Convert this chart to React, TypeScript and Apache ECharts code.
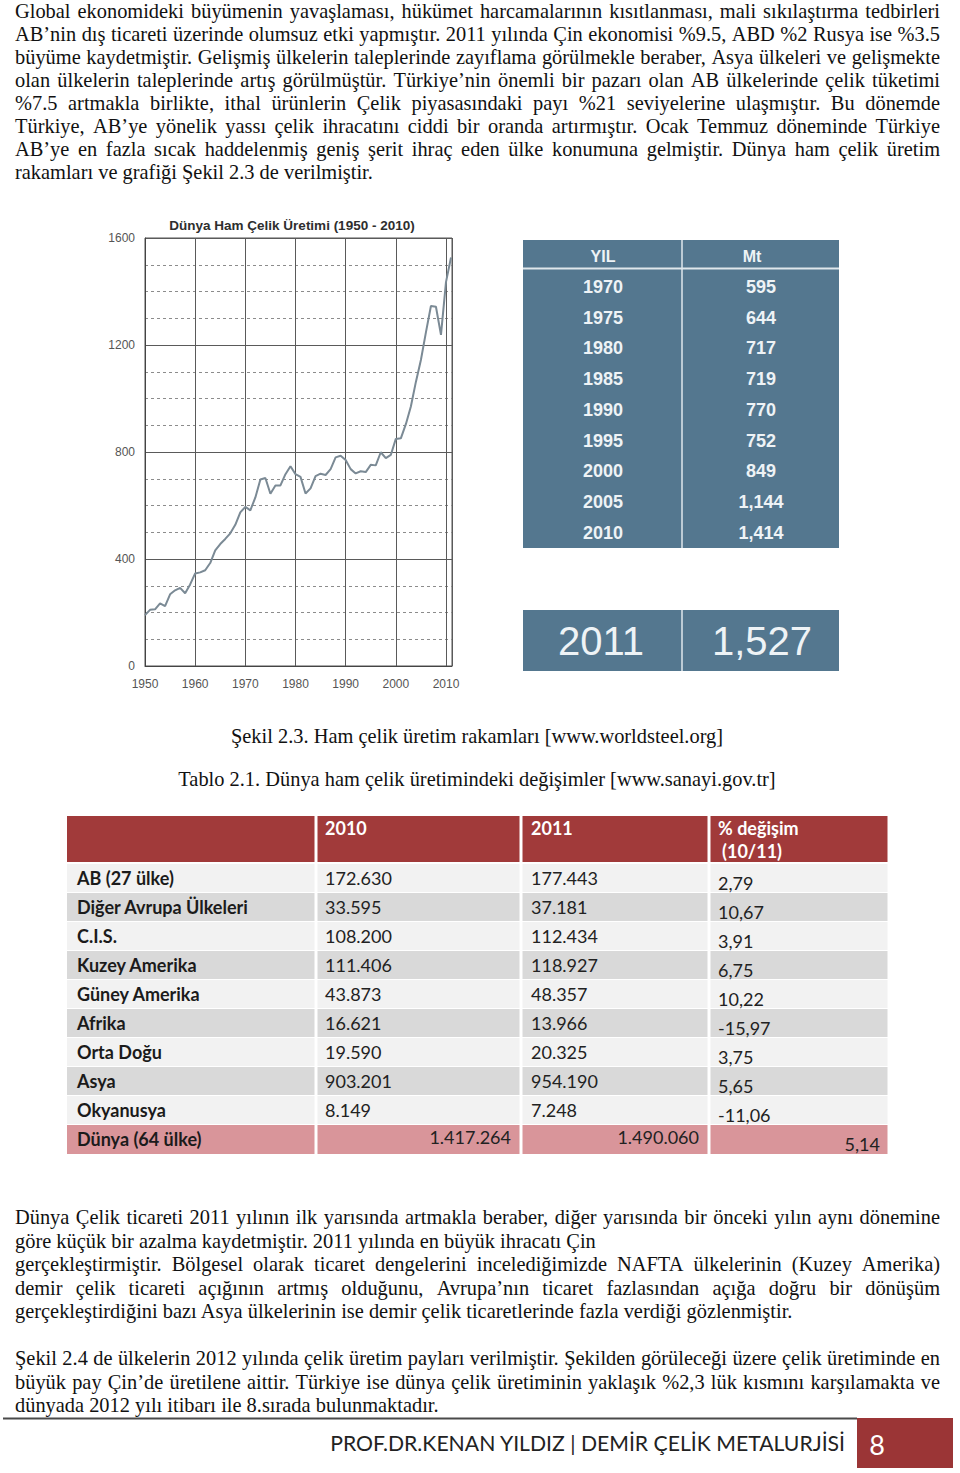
import React, { useEffect, useRef } from "react";
import * as echarts from "echarts";

// ---------- Line chart data (Mt) ----------
const years = [
  1950, 1951, 1952, 1953, 1954, 1955, 1956, 1957, 1958, 1959,
  1960, 1961, 1962, 1963, 1964, 1965, 1966, 1967, 1968, 1969,
  1970, 1971, 1972, 1973, 1974, 1975, 1976, 1977, 1978, 1979,
  1980, 1981, 1982, 1983, 1984, 1985, 1986, 1987, 1988, 1989,
  1990, 1991, 1992, 1993, 1994, 1995, 1996, 1997, 1998, 1999,
  2000, 2001, 2002, 2003, 2004, 2005, 2006, 2007, 2008, 2009,
  2010, 2011,
];
const production = [
  190, 210, 212, 234, 224, 268, 283, 292, 272, 305,
  346, 350, 358, 385, 432, 456, 475, 496, 528, 574,
  595, 582, 630, 697, 703, 644, 675, 675, 717, 747,
  717, 707, 645, 664, 710, 719, 714, 736, 780, 786,
  770, 736, 720, 728, 725, 752, 750, 799, 777, 789,
  849, 851, 904, 970, 1062, 1144, 1247, 1346, 1343, 1238,
  1435, 1527,
];
const chartTitle = "Dünya Ham Çelik Üretimi (1950 - 2010)";

// ---------- Blue panel ----------
const panelHeader = ["YIL", "Mt"];
const panelYears = ["1970", "1975", "1980", "1985", "1990", "1995", "2000", "2005", "2010"];
const panelMt = ["595", "644", "717", "719", "770", "752", "849", "1,144", "1,414"];
const panelLatest = ["2011", "1,527"];

// ---------- Table 2.1 ----------
const tableHeader = ["", "2010", "2011", "% değişim", "(10/11)"];
const regions = [
  "AB (27 ülke)", "Diğer Avrupa Ülkeleri", "C.I.S.", "Kuzey Amerika", "Güney Amerika",
  "Afrika", "Orta Doğu", "Asya", "Okyanusya",
];
const values2010 = ["172.630", "33.595", "108.200", "111.406", "43.873", "16.621", "19.590", "903.201", "8.149"];
const values2011 = ["177.443", "37.181", "112.434", "118.927", "48.357", "13.966", "20.325", "954.190", "7.248"];
const changes = ["2,79", "10,67", "3,91", "6,75", "10,22", "-15,97", "3,75", "5,65", "-11,06"];
const totalRow = ["Dünya (64 ülke)", "1.417.264", "1.490.060", "5,14"];

// ---------- Page text ----------
const para1 = [
  "Global ekonomideki büyümenin yavaşlaması, hükümet harcamalarının kısıtlanması, mali sıkılaştırma tedbirleri",
  "AB’nin dış ticareti üzerinde olumsuz etki yapmıştır. 2011 yılında Çin ekonomisi %9.5, ABD %2 Rusya ise %3.5",
  "büyüme kaydetmiştir. Gelişmiş ülkelerin taleplerinde zayıflama görülmekle beraber, Asya ülkeleri ve gelişmekte",
  "olan ülkelerin taleplerinde artış görülmüştür.  Türkiye’nin önemli bir pazarı olan AB ülkelerinde çelik tüketimi",
  "%7.5 artmakla birlikte, ithal ürünlerin Çelik piyasasındaki payı %21 seviyelerine ulaşmıştır. Bu dönemde",
  "Türkiye, AB’ye yönelik yassı çelik ihracatını ciddi bir oranda artırmıştır. Ocak Temmuz döneminde Türkiye",
  "AB’ye en fazla sıcak haddelenmiş geniş şerit ihraç eden ülke konumuna gelmiştir. Dünya ham çelik üretim",
  "rakamları ve grafiği Şekil 2.3 de verilmiştir.",
];
const para1Justify = [true, true, true, true, true, true, true, false];
const para2 = [
  "Dünya Çelik ticareti 2011 yılının ilk yarısında artmakla beraber, diğer yarısında bir önceki yılın aynı dönemine",
  "göre küçük bir azalma kaydetmiştir. 2011 yılında en büyük ihracatı Çin",
  "gerçekleştirmiştir. Bölgesel olarak ticaret dengelerini incelediğimizde NAFTA ülkelerinin (Kuzey Amerika)",
  "demir çelik ticareti açığının artmış olduğunu, Avrupa’nın ticaret fazlasından açığa doğru bir dönüşüm",
  "gerçekleştirdiğini bazı Asya ülkelerinin ise demir çelik ticaretlerinde fazla verdiği gözlenmiştir.",
];
const para2Justify = [true, false, true, true, false];
const para3 = [
  "Şekil 2.4 de ülkelerin 2012 yılında çelik üretim payları verilmiştir. Şekilden görüleceği üzere çelik üretiminde en",
  "büyük pay Çin’de üretilene aittir. Türkiye ise dünya çelik üretiminin yaklaşık %2,3 lük kısmını karşılamakta ve",
  "dünyada 2012 yılı itibarı ile 8.sırada bulunmaktadır.",
];
const para3Justify = [true, true, false];
const caption1 = "Şekil 2.3. Ham çelik üretim rakamları [www.worldsteel.org]";
const caption2 = "Tablo 2.1. Dünya ham çelik üretimindeki değişimler [www.sanayi.gov.tr]";
const footerText = "PROF.DR.KENAN YILDIZ | DEMİR ÇELİK METALURJİSİ";
const pageNumber = "8";

// ---------- helpers ----------
const SERIF = "Liberation Serif";
const SANS = "Liberation Sans";
const HUMAN = "Lato";

let measureCtx: CanvasRenderingContext2D | null = null;
function textWidth(text: string, size: number, family: string, weight = "normal") {
  if (!measureCtx) measureCtx = document.createElement("canvas").getContext("2d");
  measureCtx!.font = `${weight} ${size}px "${family}"`;
  return measureCtx!.measureText(text).width;
}

type TOpt = { size: number; family: string; weight?: string; fill?: string; align?: string; vAlign?: string };
function txt(text: string, x: number, y: number, o: TOpt) {
  const align = o.align || "left";
  const vAlign = o.vAlign || "middle";
  return {
    type: "text",
    x,
    y,
    silent: true,
    style: {
      text,
      fontSize: o.size,
      fontFamily: o.family,
      fontWeight: o.weight || "normal",
      fill: o.fill || "#111",
      textAlign: align,
      textVerticalAlign: vAlign,
      align,
      verticalAlign: vAlign,
    },
  };
}
function rect(x: number, y: number, w: number, h: number, fill: string) {
  return { type: "rect", silent: true, shape: { x, y, width: w, height: h }, style: { fill } };
}
function line(x1: number, y1: number, x2: number, y2: number, stroke: string, lineWidth = 1) {
  return { type: "line", silent: true, shape: { x1, y1, x2, y2 }, style: { stroke, lineWidth } };
}

function paragraph(lines: string[], justify: boolean[], yStart: number, lead: number, size: number) {
  const out: any[] = [];
  const x0 = 15;
  const x1 = 940;
  lines.forEach((ln, i) => {
    const y = yStart + i * lead;
    if (!justify[i]) {
      out.push(txt(ln, x0, y, { size, family: SERIF, fill: "#111" }));
      return;
    }
    const words = ln.split(" ").filter((w) => w.length > 0);
    const widths = words.map((w) => textWidth(w, size, SERIF));
    const total = widths.reduce((a, b) => a + b, 0);
    const minGap = size * 0.15;
    const gap = Math.max(minGap, (x1 - x0 - total) / (words.length - 1));
    let x = x0;
    words.forEach((w, k) => {
      out.push(txt(w, x, y, { size, family: SERIF, fill: "#111" }));
      x += widths[k] + gap;
    });
  });
  return out;
}

function buildGraphics() {
  const g: any[] = [];
  // body font fitted to caption widths
  const c1 = 492 / textWidth(caption1, 1, SERIF);
  const c2 = 599 / textWidth(caption2, 1, SERIF);
  const bodySize = Math.round(((c1 + c2) / 2) * 10) / 10;

  g.push(...paragraph(para1, para1Justify, 11, 23.0, bodySize));
  g.push(...paragraph(para2, para2Justify, 1217, 23.5, bodySize));
  g.push(...paragraph(para3, para3Justify, 1358, 23.5, bodySize));

  g.push(txt(caption1, 477, 736, { size: bodySize, family: SERIF, align: "center" }));
  g.push(txt(caption2, 477, 779, { size: bodySize, family: SERIF, align: "center" }));

  // chart title
  g.push(txt(chartTitle, 292, 225, { size: 13.5, family: SANS, weight: "bold", fill: "#2e2e2e", align: "center" }));

  // ---- blue panel ----
  const pBlue = "#54778f";
  const pText = "#eef3f6";
  const px0 = 523, px1 = 839, pmid = 682;
  g.push(rect(px0, 240, px1 - px0, 548 - 240, pBlue));
  g.push(line(px0, 268.5, px1, 268.5, "#dfe7ec", 2));
  g.push(line(pmid, 240, pmid, 548, "#dfe7ec", 1.5));
  g.push(txt(panelHeader[0], 603, 256, { size: 16, family: SANS, weight: "bold", fill: pText, align: "center" }));
  g.push(txt(panelHeader[1], 752, 256, { size: 16, family: SANS, weight: "bold", fill: pText, align: "center" }));
  panelYears.forEach((yr, i) => {
    const y = 287 + i * 30.7;
    g.push(txt(yr, 603, y, { size: 18, family: SANS, weight: "bold", fill: pText, align: "center" }));
    g.push(txt(panelMt[i], 761, y, { size: 18, family: SANS, weight: "bold", fill: pText, align: "center" }));
  });
  g.push(rect(px0, 610, px1 - px0, 61, pBlue));
  g.push(line(pmid, 610, pmid, 671, "#dfe7ec", 1.5));
  g.push(txt(panelLatest[0], 601, 641, { size: 40, family: SANS, fill: pText, align: "center" }));
  g.push(txt(panelLatest[1], 762, 641, { size: 40, family: SANS, fill: pText, align: "center" }));

  // ---- table 2.1 ----
  const cols = [67, 316, 521, 709, 889];
  const red = "#a13a3a";
  const pink = "#d9959a";
  const tSize = 18;
  for (let c = 0; c < 4; c++) {
    const x = cols[c] + (c === 0 ? 0 : 1.5);
    const w = cols[c + 1] - x - 1.5;
    g.push(rect(x, 816, w, 46, red));
  }
  g.push(txt(tableHeader[1], 325, 828, { size: tSize, family: HUMAN, weight: "bold", fill: "#fff" }));
  g.push(txt(tableHeader[2], 531, 828, { size: tSize, family: HUMAN, weight: "bold", fill: "#fff" }));
  g.push(txt(tableHeader[3], 718, 828, { size: tSize, family: HUMAN, weight: "bold", fill: "#fff" }));
  g.push(txt(tableHeader[4], 722, 851, { size: tSize, family: HUMAN, weight: "bold", fill: "#fff" }));

  regions.forEach((name, i) => {
    const top = 864 + i * 29;
    const fill = i % 2 === 0 ? "#f2f2f2" : "#d9d9d9";
    for (let c = 0; c < 4; c++) {
      const x = cols[c] + (c === 0 ? 0 : 1.5);
      const w = cols[c + 1] - x - 1.5;
      g.push(rect(x, top, w, 28, fill));
    }
    const yc = top + 14;
    g.push(txt(name, 77, yc, { size: tSize, family: HUMAN, weight: "bold", fill: "#1b1b1b" }));
    g.push(txt(values2010[i], 325, yc, { size: tSize, family: HUMAN, fill: "#222" }));
    g.push(txt(values2011[i], 531, yc, { size: tSize, family: HUMAN, fill: "#222" }));
    g.push(txt(changes[i], 718, yc + 5, { size: tSize, family: HUMAN, fill: "#222" }));
  });
  {
    const top = 1125;
    for (let c = 0; c < 4; c++) {
      const x = cols[c] + (c === 0 ? 0 : 1.5);
      const w = cols[c + 1] - x - 1.5;
      g.push(rect(x, top, w, 29, pink));
    }
    g.push(txt(totalRow[0], 77, 1139, { size: tSize, family: HUMAN, weight: "bold", fill: "#1b1b1b" }));
    g.push(txt(totalRow[1], 511, 1137, { size: tSize, family: HUMAN, fill: "#222", align: "right" }));
    g.push(txt(totalRow[2], 699, 1137, { size: tSize, family: HUMAN, fill: "#222", align: "right" }));
    g.push(txt(totalRow[3], 880, 1144, { size: tSize, family: HUMAN, fill: "#222", align: "right" }));
  }

  // ---- footer ----
  g.push(line(3, 1418.5, 857, 1418.5, "#4a4a4a", 2));
  g.push(rect(857, 1418, 96, 50, "#9b3536"));
  g.push(txt(footerText, 845, 1443, { size: 21.2, family: HUMAN, fill: "#222", align: "right" }));
  g.push(txt(pageNumber, 877, 1444, { size: 27, family: HUMAN, fill: "#fff", align: "center" }));
  return g;
}

function buildOption() {
  return {
    animation: false,
    grid: {
      left: 145,
      top: 238,
      width: 307,
      height: 428,
      show: true,
      borderColor: "#555",
      borderWidth: 1,
      backgroundColor: "transparent",
    },
    xAxis: {
      type: "value",
      min: 1950,
      max: 2011.2,
      interval: 10,
      axisLine: { show: true, lineStyle: { color: "#444", width: 1 } },
      axisTick: { show: false },
      axisLabel: {
        formatter: (v: number) => String(v),
        color: "#555",
        fontSize: 12,
        fontFamily: SANS,
        margin: 12,
        showMaxLabel: false,
      },
      splitLine: { show: true, lineStyle: { color: "#5a5a5a", width: 1 } },
    },
    yAxis: {
      type: "value",
      min: 0,
      max: 1600,
      interval: 400,
      axisLine: { show: true, lineStyle: { color: "#444", width: 1 } },
      axisTick: { show: false },
      axisLabel: {
        formatter: (v: number) => String(v),
        color: "#555",
        fontSize: 12,
        fontFamily: SANS,
        margin: 10,
      },
      splitLine: { show: true, lineStyle: { color: "#5a5a5a", width: 1 } },
      minorTick: { show: false, splitNumber: 4 },
      minorSplitLine: { show: true, lineStyle: { color: "#8c8c8c", width: 1, type: [3, 3] } },
    },
    series: [
      {
        type: "line",
        data: years.map((y, i) => [y, production[i]]),
        symbol: "none",
        showSymbol: false,
        silent: true,
        lineStyle: { color: "#7b8a95", width: 2 },
      },
    ],
    graphic: { elements: buildGraphics() },
  };
}

export default function App() {
  const ref = useRef<HTMLDivElement>(null);
  useEffect(() => {
    document.body.style.margin = "0";
    const chart = echarts.init(ref.current!, null, { renderer: "svg" });
    chart.setOption(buildOption() as any);
    return () => chart.dispose();
  }, []);
  return <div ref={ref} style={{ width: 960, height: 1473, background: "#fff" }} />;
}
